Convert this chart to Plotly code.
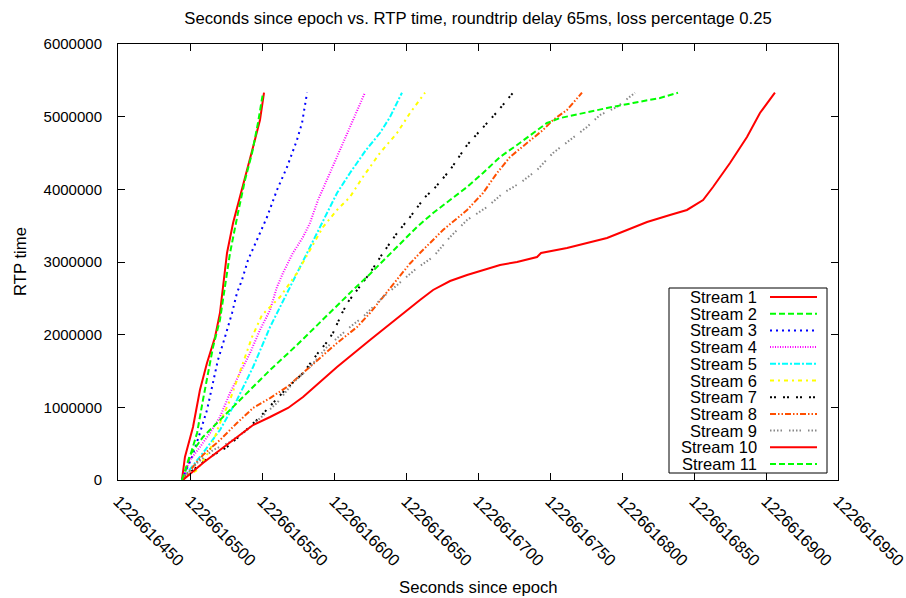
import plotly.graph_objects as go

# ---- data: seconds since epoch (x) vs. RTP time (y) per stream ----
s1_x = [1226616494.4, 1226616496.5, 1226616502.1, 1226616506.9, 1226616511.8, 1226616517.4,
        1226616520.8, 1226616522.9, 1226616525.7, 1226616529.9, 1226616536.1, 1226616543.8,
        1226616548.6, 1226616551.4]
s1_y = [0, 317000, 729000, 1238000, 1610000, 1968000, 2298000, 2656000, 3124000, 3537000,
        3991000, 4582000, 4954000, 5330000]

s2_x = [1226616495.1, 1226616500.0, 1226616504.9, 1226616509.0, 1226616512.5, 1226616516.0,
        1226616520.8, 1226616524.3, 1226616527.8, 1226616533.3, 1226616538.2, 1226616543.1,
        1226616547.2, 1226616550.7]
s2_y = [0, 317000, 647000, 1101000, 1472000, 1830000, 2202000, 2656000, 3124000, 3674000,
        4128000, 4500000, 4913000, 5330000]

s3_x = [1226616494.4, 1226616501.4, 1226616506.9, 1226616511.8, 1226616515.3, 1226616519.4,
        1226616524.3, 1226616529.2, 1226616532.6, 1226616536.1, 1226616540.3, 1226616546.5,
        1226616553.5, 1226616560.4, 1226616567.4, 1226616574.3, 1226616577.8, 1226616581.3]
s3_y = [0, 317000, 647000, 963000, 1280000, 1651000, 1968000, 2298000, 2573000, 2752000,
        3027000, 3303000, 3619000, 3991000, 4307000, 4679000, 4913000, 5330000]

s4_x = [1226616494.4, 1226616500.0, 1226616506.9, 1226616513.9, 1226616520.8, 1226616527.8,
        1226616534.7, 1226616541.7, 1226616548.6, 1226616555.6, 1226616560.4, 1226616564.6,
        1226616571.5, 1226616578.5, 1226616583.3, 1226616588.9, 1226616597.2, 1226616604.2,
        1226616612.5, 1226616621.5]
s4_y = [0, 275000, 454000, 647000, 867000, 1197000, 1472000, 1748000, 2064000, 2339000,
        2656000, 2849000, 3124000, 3344000, 3537000, 3853000, 4225000, 4541000, 4913000, 5330000]

s5_x = [1226616494.4, 1226616497.9, 1226616509.0, 1226616520.8, 1226616532.6, 1226616543.8,
        1226616555.6, 1226616562.5, 1226616574.3, 1226616583.3, 1226616592.4, 1226616602.1,
        1226616611.1, 1226616622.2, 1226616631.9, 1226616638.9, 1226616647.2]
s5_y = [0, 96000, 372000, 688000, 1101000, 1555000, 2105000, 2381000, 2849000, 3206000,
        3578000, 3949000, 4225000, 4541000, 4775000, 4995000, 5330000]

s6_x = [1226616494.4, 1226616504.9, 1226616513.9, 1226616520.8, 1226616527.8, 1226616532.6,
        1226616539.6, 1226616543.1, 1226616550.0, 1226616562.5, 1226616574.3, 1226616583.3,
        1226616592.4, 1226616602.1, 1226616611.1, 1226616620.1, 1226616631.9, 1226616643.8,
        1226616652.8, 1226616663.2]
s6_y = [0, 138000, 413000, 784000, 1101000, 1376000, 1789000, 1968000, 2271000, 2518000,
        2849000, 3165000, 3482000, 3716000, 3894000, 4170000, 4500000, 4775000, 5050000, 5330000]

s7_x = [1226616494.4, 1226616502.1, 1226616513.9, 1226616525.7, 1226616536.8, 1226616548.6,
        1226616566.0, 1226616578.5, 1226616588.9, 1226616595.1, 1226616599.3, 1226616605.6,
        1226616609.7, 1226616616.0, 1226616625.0, 1226616634.0, 1226616643.8, 1226616652.8,
        1226616663.2, 1226616668.8, 1226616680.6, 1226616692.4, 1226616702.8, 1226616713.2,
        1226616724.3]
s7_y = [0, 138000, 317000, 454000, 647000, 867000, 1238000, 1472000, 1748000, 1899000,
        2023000, 2298000, 2449000, 2615000, 2849000, 3124000, 3399000, 3619000, 3894000,
        3991000, 4266000, 4610000, 4844000, 5064000, 5330000]

s8_x = [1226616494.4, 1226616509.0, 1226616520.8, 1226616532.6, 1226616543.8, 1226616555.6,
        1226616567.4, 1226616583.3, 1226616602.1, 1226616616.0, 1226616625.0, 1226616634.0,
        1226616643.8, 1226616652.8, 1226616659.7, 1226616675.7, 1226616692.4, 1226616703.5,
        1226616713.2, 1226616722.2, 1226616734.0, 1226616745.1, 1226616752.1, 1226616761.8,
        1226616772.2]
s8_y = [0, 344000, 550000, 784000, 991000, 1128000, 1280000, 1555000, 1885000, 2105000,
        2298000, 2518000, 2752000, 2980000, 3124000, 3440000, 3716000, 3949000, 4225000,
        4445000, 4637000, 4816000, 4954000, 5092000, 5330000]

s9_x = [1226616494.4, 1226616504.9, 1226616516.0, 1226616527.8, 1226616539.6, 1226616548.6,
        1226616560.4, 1226616571.5, 1226616583.3, 1226616595.1, 1226616611.1, 1226616620.1,
        1226616634.0, 1226616647.9, 1226616657.6, 1226616668.8, 1226616680.6, 1226616692.4,
        1226616706.3, 1226616717.4, 1226616729.2, 1226616741.0, 1226616752.1, 1226616763.9,
        1226616775.7, 1226616784.7, 1226616796.5, 1226616809.0]
s9_y = [0, 234000, 413000, 523000, 688000, 853000, 1060000, 1335000, 1555000, 1830000,
        2105000, 2243000, 2518000, 2752000, 2917000, 3069000, 3344000, 3578000, 3757000,
        3949000, 4087000, 4266000, 4500000, 4679000, 4858000, 5023000, 5133000, 5330000]

s10_x = [1226616495.1, 1226616509.0, 1226616520.8, 1226616532.6, 1226616543.8, 1226616555.6,
         1226616568.1, 1226616578.5, 1226616585.4, 1226616602.1, 1226616625.0, 1226616647.9,
         1226616659.7, 1226616668.8, 1226616680.6, 1226616692.4, 1226616703.5, 1226616715.3,
         1226616727.1, 1226616741.0, 1226616743.8, 1226616761.8, 1226616775.7, 1226616789.6,
         1226616803.5, 1226616817.4, 1226616833.3, 1226616845.1, 1226616856.3, 1226616863.2,
         1226616875.0, 1226616886.8, 1226616895.8, 1226616906.2]
s10_y = [0, 234000, 413000, 592000, 757000, 867000, 991000, 1142000, 1266000, 1555000,
         1927000, 2298000, 2477000, 2615000, 2738000, 2821000, 2890000, 2959000, 3000000,
         3069000, 3124000, 3193000, 3261000, 3330000, 3440000, 3550000, 3647000, 3716000,
         3853000, 4032000, 4362000, 4720000, 5050000, 5330000]

s11_x = [1226616494.4, 1226616500.0, 1226616509.0, 1226616520.8, 1226616532.6, 1226616543.8,
         1226616555.6, 1226616574.3, 1226616590.3, 1226616605.6, 1226616613.2, 1226616625.0,
         1226616636.8, 1226616647.9, 1226616657.6, 1226616668.8, 1226616680.6, 1226616692.4,
         1226616703.5, 1226616715.3, 1226616727.1, 1226616738.2, 1226616747.9, 1226616756.9,
         1226616772.9, 1226616789.6, 1226616807.6, 1226616826.4, 1226616838.9]
s11_y = [0, 344000, 592000, 826000, 1060000, 1280000, 1514000, 1858000, 2174000, 2463000,
         2615000, 2835000, 3069000, 3296000, 3482000, 3674000, 3853000, 4032000, 4225000,
         4445000, 4610000, 4775000, 4913000, 4981000, 5050000, 5119000, 5188000, 5257000, 5330000]

stream_names = ["Stream 1", "Stream 2", "Stream 3", "Stream 4", "Stream 5", "Stream 6",
                "Stream 7", "Stream 8", "Stream 9", "Stream 10", "Stream 11"]
xs = [s1_x, s2_x, s3_x, s4_x, s5_x, s6_x, s7_x, s8_x, s9_x, s10_x, s11_x]
ys = [s1_y, s2_y, s3_y, s4_y, s5_y, s6_y, s7_y, s8_y, s9_y, s10_y, s11_y]

x_ticks = [1226616450, 1226616500, 1226616550, 1226616600, 1226616650, 1226616700,
           1226616750, 1226616800, 1226616850, 1226616900, 1226616950]
y_ticks = [0, 1000000, 2000000, 3000000, 4000000, 5000000, 6000000]

# gnuplot-like line styles
colors = ["#ff0000", "#00ff00", "#0000ff", "#ff00ff", "#00ffff", "#ffff00",
          "#000000", "#ff4f00", "#888888", "#ff0000", "#00ff00"]
dashes = ["solid", "6px,3px", "2px,4px", "1px,1.5px", "6px,2px,2px,2px",
          "4px,4px,2px,4px", "2px,2px,2px,7px", "6px,2px,1.5px,2px,1.5px,2px",
          "1.5px,2px,1.5px,2px,1.5px,2px,1.5px,7px", "solid", "6px,3px"]

FONT = "Liberation Sans, Arial, Helvetica, sans-serif"

fig = go.Figure()
for name, x, y, c, d in zip(stream_names, xs, ys, colors, dashes):
    fig.add_trace(go.Scatter(x=x, y=y, mode="lines", name=name,
                             line=dict(color=c, width=2, dash=d), showlegend=False))

W, H = 906, 598
L, R, T, B = 118, 68, 44, 118
pw, ph = W - L - R, H - T - B

axis_common = dict(showline=True, linecolor="black", linewidth=1, mirror="ticks",
                   ticks="inside", ticklen=7, tickcolor="black", tickwidth=1,
                   showgrid=False, zeroline=False, tickformat="d", automargin=False,
                   ticklabeloverflow="allow")

fig.update_layout(
    width=W, height=H, autosize=False,
    margin=dict(l=L, r=R, t=T, b=B, pad=0),
    paper_bgcolor="white", plot_bgcolor="white",
    font=dict(family=FONT, color="black", size=15),
    title=dict(text="Seconds since epoch vs. RTP time, roundtrip delay 65ms, loss percentage 0.25",
               x=0.5, xref="paper", xanchor="center", y=1 - 18 / H, yanchor="middle",
               font=dict(family=FONT, size=16.7, color="black")),
    xaxis=dict(range=[1226616450, 1226616950], tickvals=x_ticks, tickangle=45,
               tickfont=dict(size=16.5), ticklabelstandoff=4, **axis_common),
    yaxis=dict(range=[0, 6000000], tickvals=y_ticks,
               tickfont=dict(size=15), ticklabelstandoff=12, **axis_common),
)

# axis titles
fig.add_annotation(text="Seconds since epoch", xref="paper", yref="paper",
                   x=0.5, y=-(587 - (T + ph)) / ph, xanchor="center", yanchor="middle",
                   showarrow=False, font=dict(size=16.7))
fig.add_annotation(text="RTP time", xref="paper", yref="paper",
                   x=-(L - 20) / pw, y=(T + ph - 262) / ph, xanchor="center", yanchor="middle",
                   textangle=-90, showarrow=False, font=dict(size=16.7))

# key box in the lower right corner
def px_x(p):
    return (p - L) / pw

def px_y(p):
    return (T + ph - p) / ph

fig.add_shape(type="rect", xref="paper", yref="paper",
              x0=px_x(669), x1=px_x(827), y0=px_y(473), y1=px_y(288),
              line=dict(color="black", width=1), fillcolor="white", layer="above")
row0, row_step = 297, 16.7
for i, (name, c, d) in enumerate(zip(stream_names, colors, dashes)):
    yy = px_y(row0 + row_step * i)
    fig.add_annotation(text=name, xref="paper", yref="paper", x=px_x(759), y=yy,
                       xanchor="right", yanchor="middle", showarrow=False,
                       height=16, valign="middle", font=dict(size=16.5))
    fig.add_shape(type="line", xref="paper", yref="paper",
                  x0=px_x(770), x1=px_x(817), y0=yy, y1=yy,
                  line=dict(color=c, width=2, dash=d), layer="above")

fig.write_html("out.html")
